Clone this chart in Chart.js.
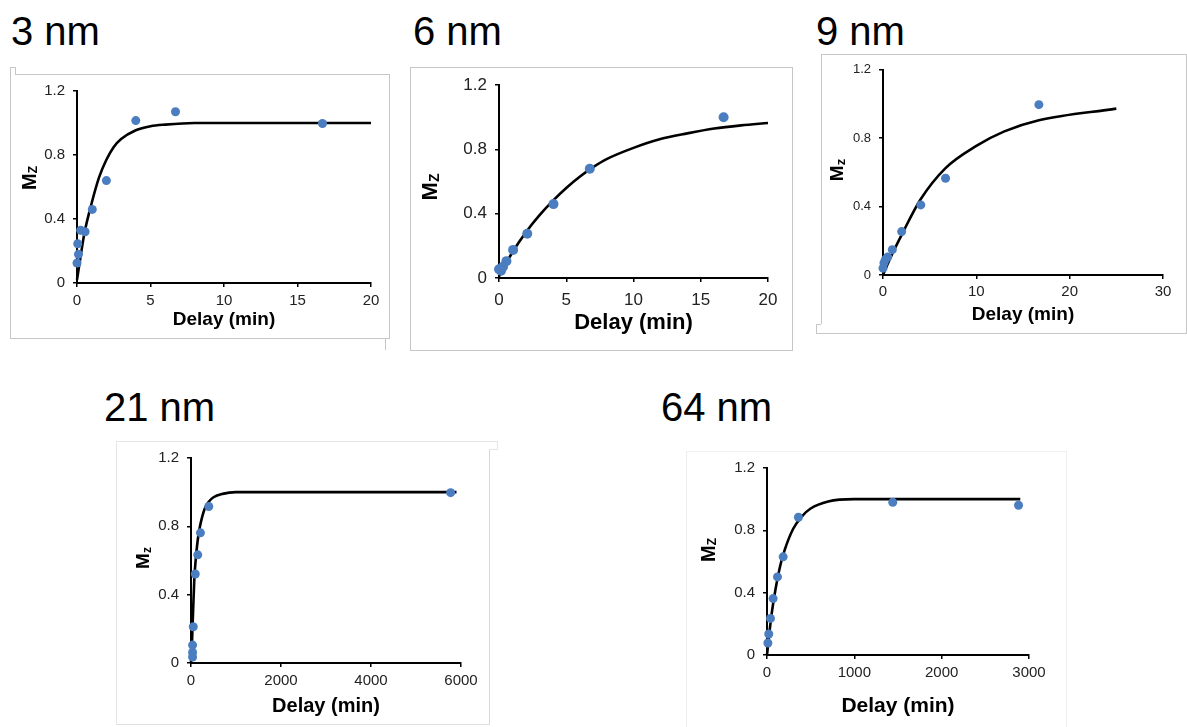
<!DOCTYPE html>
<html>
<head>
<meta charset="utf-8">
<script src="https://cdn.jsdelivr.net/npm/chart.js@4.4.1/dist/chart.umd.min.js"></script>
<style>
  body { margin: 0; background: #fff; width: 1187px; height: 727px; overflow: hidden; position: relative;
         font-family: "Liberation Sans", Arial, sans-serif; }
  .title { position: absolute; font-size: 40px; line-height: 40px; color: #000; white-space: nowrap; }
  .ln { position: absolute; }
  canvas { position: absolute; }
</style>
</head>
<body>
<div class="title" style="left:11px;top:11px">3 nm</div>
<div class="title" style="left:413px;top:11px">6 nm</div>
<div class="title" style="left:816px;top:11px">9 nm</div>
<div class="title" style="left:104px;top:387px">21 nm</div>
<div class="title" style="left:661px;top:387px">64 nm</div>

<canvas id="c3" width="380" height="264" style="left:10px;top:74px"></canvas>
<canvas id="c6" width="383" height="283" style="left:410px;top:67px"></canvas>
<canvas id="c9" width="366" height="279" style="left:821px;top:54px"></canvas>
<canvas id="c21" width="373" height="283" style="left:116px;top:441px"></canvas>
<canvas id="c64" width="381" height="276" style="left:686px;top:451px"></canvas>

<script>
// ---- data ----
const yTicks = [0, 0.4, 0.8, 1.2];

// 3 nm
const delay3 = [0, 0.05, 0.1, 0.25, 0.55, 1.04, 2.0, 4.0, 6.7, 16.7];
const mz3 = [0.125, 0.245, 0.18, 0.33, 0.32, 0.46, 0.64, 1.015, 1.07, 0.997];
const fitDelay3 = [0, 0.25, 0.5, 1, 1.5, 2, 2.5, 3, 4, 5, 6, 8, 20];
const fitMz3 = [0.02, 0.17, 0.31, 0.5, 0.66, 0.77, 0.85, 0.9, 0.955, 0.98, 0.99, 1.0, 1.0];
const xTicks3 = [0, 5, 10, 15, 20];

// 6 nm
const delay6 = [0, 0.15, 0.3, 0.55, 1.05, 2.1, 4.05, 6.75, 16.7];
const mz6 = [0.055, 0.045, 0.07, 0.105, 0.175, 0.275, 0.46, 0.68, 1.0];
const fitDelay6 = [0, 1, 2, 3, 4, 5, 6, 7, 8, 10, 12, 14, 16, 18, 20];
const fitMz6 = [0.01, 0.16, 0.285, 0.39, 0.48, 0.56, 0.63, 0.69, 0.74, 0.81, 0.865, 0.9, 0.93, 0.95, 0.965];
const xTicks6 = [0, 5, 10, 15, 20];

// 9 nm
const delay9 = [0, 0.1, 0.25, 0.5, 1.0, 2.0, 4.05, 6.7, 16.7];
const mz9 = [0.04, 0.07, 0.09, 0.105, 0.148, 0.254, 0.41, 0.566, 0.996];
const fitDelay9 = [0, 0.5, 1, 2, 4, 6.7, 10, 13, 16.7, 25];
const fitMz9 = [0, 0.065, 0.125, 0.235, 0.44, 0.625, 0.755, 0.84, 0.905, 0.973];
const xTicks9 = [0, 10, 20, 30];

// 21 nm
const delay21 = [35, 35, 35, 50, 95, 150, 210, 395, 5770];
const mz21 = [0.035, 0.062, 0.105, 0.212, 0.521, 0.633, 0.762, 0.916, 0.997];
const fitDelay21 = [0, 25, 50, 75, 100, 150, 200, 300, 400, 500, 700, 1000, 5900];
const fitMz21 = [0, 0.14, 0.33, 0.5, 0.59, 0.72, 0.8, 0.9, 0.945, 0.97, 0.99, 1.0, 1.0];
const xTicks21 = [0, 2000, 4000, 6000];

// 64 nm
const delay64 = [10, 20, 40, 70, 120, 185, 360, 1440, 2880];
const mz64 = [0.077, 0.135, 0.235, 0.362, 0.501, 0.63, 0.884, 0.98, 0.961];
const fitDelay64 = [0, 50, 100, 150, 200, 300, 400, 500, 700, 1000, 2900];
const fitMz64 = [0, 0.25, 0.43, 0.57, 0.67, 0.81, 0.89, 0.94, 0.985, 1.0, 1.0];
const xTicks64 = [0, 1000, 2000, 3000];

const BLUE = '#4a7ec0';
const FONT = '"Liberation Sans", Arial, sans-serif';
Chart.defaults.font.family = FONT;

// plain gray frame lines round each panel
function line(x, y, w, h, c) {
  const d = document.createElement('div');
  d.className = 'ln';
  d.style.cssText = `left:${x}px;top:${y}px;width:${w}px;height:${h}px;background:${c}`;
  document.body.appendChild(d);
}
const G1 = '#c6c6c6', G2 = '#e6e6e6';
// 3 nm frame
line(10, 67, 1, 272, G1); line(10, 67, 5, 1, G1); line(15, 67, 1, 7, G1);
line(15, 74, 375, 1, G1); line(389, 74, 1, 265, G1); line(10, 338, 380, 1, G1);
line(385, 338, 1, 12, G1);
// 6 nm frame
line(410, 67, 383, 1, G1); line(410, 67, 1, 283, G1); line(792, 67, 1, 283, G1); line(410, 350, 383, 1, G1);
// 9 nm frame
line(821, 54, 366, 1, G1); line(821, 54, 1, 270, G1); line(1186, 54, 1, 279, G1); line(816, 333, 371, 1, G1);
line(816, 324, 5, 1, G1); line(816, 324, 1, 9, G1);
// 21 nm frame
line(116, 441, 382, 1, G2); line(116, 441, 1, 283, G2); line(489, 450, 1, 274, '#d8d8d8'); line(116, 724, 374, 1, '#e0e0e0');
line(497, 441, 1, 8, G2); line(489, 449, 9, 1, G2);
// 64 nm frame
line(686, 451, 381, 1, '#f0f0f0'); line(686, 451, 1, 276, '#eeeeee'); line(1066, 451, 1, 276, '#eeeeee');

// rotated "M" with subscript, drawn as y axis title
const mzLabel = {
  id: 'mzLabel',
  afterDraw(chart, args, o) {
    const ctx = chart.ctx;
    const big = `bold ${o.size}px ${FONT}`;
    const small = `bold ${Math.round(o.size * o.subScale)}px ${FONT}`;
    ctx.save();
    ctx.translate(o.x, o.y);
    ctx.rotate(-Math.PI / 2);
    ctx.fillStyle = '#000';
    ctx.textBaseline = 'alphabetic';
    ctx.textAlign = 'left';
    ctx.font = big;
    const wM = ctx.measureText('M').width;
    ctx.font = small;
    const wZ = ctx.measureText(o.sub).width;
    const x0 = -(wM + wZ) / 2;
    const base = o.size * 0.33;
    ctx.font = big;
    ctx.fillText('M', x0, base);
    ctx.font = small;
    ctx.fillText(o.sub, x0 + wM, base + o.size * 0.08);
    ctx.restore();
  }
};

function pairs(xs, ys) {
  return xs.map((x, i) => ({ x: x, y: ys[i] }));
}

function panel(id, g, xs, ys, fx, fy, xTicks) {
  new Chart(document.getElementById(id), {
    type: 'scatter',
    data: {
      datasets: [
        { data: pairs(xs, ys), showLine: false, pointRadius: g.dot, pointBackgroundColor: BLUE,
          pointBorderWidth: 0, clip: false },
        { data: pairs(fx, fy), showLine: true, pointRadius: 0, borderColor: '#000', borderWidth: 2.6,
          cubicInterpolationMode: 'monotone', clip: false }
      ]
    },
    options: {
      responsive: false,
      animation: false,
      devicePixelRatio: 1,
      layout: { padding: { top: g.top, right: g.right, left: 0, bottom: 0 } },
      plugins: {
        legend: { display: false },
        tooltip: { enabled: false },
        mzLabel: { x: g.mx, y: g.my, size: g.msize, sub: g.sub, subScale: g.subScale }
      },
      scales: {
        x: {
          type: 'linear',
          min: xTicks[0],
          max: xTicks[xTicks.length - 1],
          ticks: { stepSize: xTicks[1] - xTicks[0], color: '#222', font: { size: g.tick }, padding: g.xpad,
                   maxRotation: 0, callback: v => String(v) },
          grid: { drawOnChartArea: false, tickLength: 4, color: '#000', lineWidth: 1.5 },
          border: { color: '#000', width: 2 },
          title: { display: true, text: 'Delay (min)', color: '#000',
                   font: { size: g.tsize, weight: 'bold' }, padding: { top: 0, bottom: g.tpad } },
          afterFit(s) { s.height = g.xh; }
        },
        y: {
          min: yTicks[0],
          max: yTicks[yTicks.length - 1],
          ticks: { stepSize: yTicks[1] - yTicks[0], color: '#222', font: { size: g.ytick || g.tick }, padding: 8,
                   callback: v => (v === 0 ? '0' : v.toFixed(1)) },
          grid: { drawOnChartArea: false, tickLength: 4, color: '#000', lineWidth: 1.5 },
          border: { color: '#000', width: 2 },
          afterFit(s) { s.width = g.yw; }
        }
      }
    },
    plugins: [mzLabel]
  });
}

panel('c3', { top: 16, right: 19, yw: 67, xh: 55, tick: 15, xpad: 5, tsize: 19, tpad: 6.6,
              mx: 19, my: 104, msize: 20, sub: 'Z', subScale: 0.62, dot: 4.5 },
      delay3, mz3, fitDelay3, fitMz3, xTicks3);
panel('c6', { top: 17, right: 25, yw: 89, xh: 72, tick: 17, xpad: 8, tsize: 22, tpad: 13.5,
              mx: 20, my: 120, msize: 22, sub: 'Z', subScale: 0.62, dot: 5 },
      delay6, mz6, fitDelay6, fitMz6, xTicks6);
panel('c9', { top: 13, right: 24, yw: 62, xh: 58, tick: 15, ytick: 13, xpad: 4, tsize: 19, tpad: 6.6,
              mx: 16, my: 116, msize: 19, sub: 'z', subScale: 0.7, dot: 4.5 },
      delay9, mz9, fitDelay9, fitMz9, xTicks9);
panel('c21', { top: 15, right: 28, yw: 75, xh: 61, tick: 15, xpad: 4.4, tsize: 20, tpad: 6,
               mx: 27, my: 117, msize: 19, sub: 'z', subScale: 0.62, dot: 4.5 },
      delay21, mz21, fitDelay21, fitMz21, xTicks21);
panel('c64', { top: 12, right: 38, yw: 81, xh: 72, tick: 15, xpad: 5, tsize: 21, tpad: 7.7,
               mx: 22, my: 99, msize: 20, sub: 'Z', subScale: 0.62, dot: 4.5 },
      delay64, mz64, fitDelay64, fitMz64, xTicks64);
</script>
</body>
</html>
